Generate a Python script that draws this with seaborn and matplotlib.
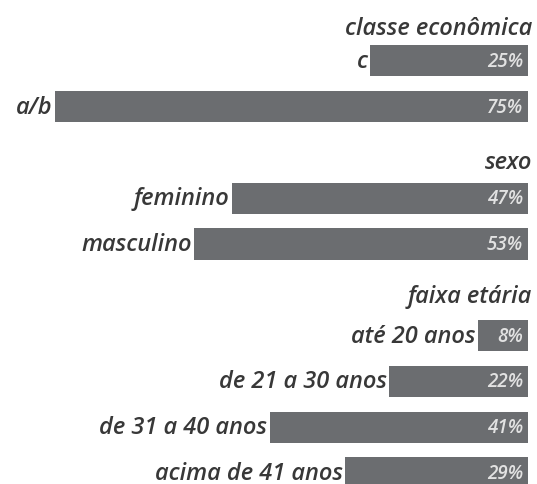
import matplotlib
matplotlib.use("Agg")
import matplotlib.pyplot as plt
import seaborn as sns
import pandas as pd
import numpy as np

# --- data ---
groups = ["classe econômica", "sexo", "faixa etária"]
labels_classe = ["c", "a/b"]
values_classe = [25, 75]
labels_sexo = ["feminino", "masculino"]
values_sexo = [47, 53]
labels_idade = ["até 20 anos", "de 21 a 30 anos", "de 31 a 40 anos", "acima de 41 anos"]
values_idade = [8, 22, 41, 29]

rows, vals, kinds = [], [], []
for g, labs, vs in zip(groups,
                       [labels_classe, labels_sexo, labels_idade],
                       [values_classe, values_sexo, values_idade]):
    rows.append("__" + g); vals.append(np.nan); kinds.append("header")
    for l, v in zip(labs, vs):
        rows.append(l); vals.append(v); kinds.append("bar")
df = pd.DataFrame({"row": rows, "value": vals, "kind": kinds})

sns.set_theme(style="white")
plt.rcParams["font.family"] = ["Open Sans", "DejaVu Sans"]

fig = plt.figure(figsize=(5.37, 4.85), dpi=100)
ax = fig.add_axes([0, 0, 1, 1])

bars_df = df[df["kind"] == "bar"]
sns.barplot(data=bars_df, y="row", x="value", order=rows, orient="h",
            color="#6b6d70", saturation=1, width=0.68, ax=ax, edgecolor="none")

ax.set_xlim(83.8, -1.43)
ax.set_ylim(10.24, -0.35)
ax.axis("off")

label_color = "#383838"
header_offsets = [0.28, 0.2, 0.13]
hi = 0
for i, (r, v, k) in enumerate(zip(rows, vals, kinds)):
    if k == "header":
        ax.text(-0.6, i + header_offsets[hi], r[2:], ha="right", va="center",
                fontsize=17, style="italic", fontweight="semibold", color=label_color)
        hi += 1
    else:
        ax.text(v + 0.4, i, r, ha="right", va="center", fontsize=17,
                style="italic", fontweight="semibold", color=label_color)
        ax.text(0.8, i, f"{v:g}%", ha="right", va="center", fontsize=13.5,
                style="italic", fontweight="semibold", color="#e2e2e2")

fig.savefig("out.png", dpi=100)
